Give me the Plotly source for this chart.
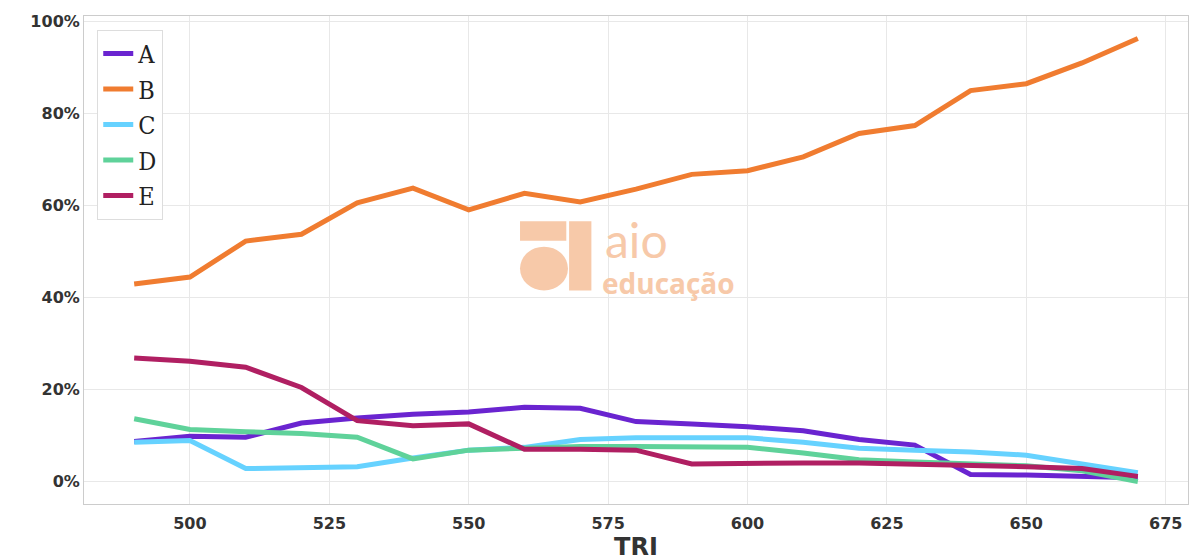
import plotly.graph_objects as go

x = list(range(490, 680, 10))
A = [8.7, 9.8, 9.6, 12.7, 13.8, 14.6, 15.1, 16.1, 15.9, 13.0, 12.5, 11.9, 11.0, 9.1, 7.9, 1.5, 1.4, 1.2, 0.8]
B = [42.9, 44.4, 52.2, 53.7, 60.5, 63.7, 59.0, 62.6, 60.7, 63.5, 66.7, 67.5, 70.5, 75.6, 77.3, 84.9, 86.4, 90.9, 96.2]
C = [8.5, 8.9, 2.8, 3.0, 3.2, 5.1, 6.8, 7.4, 9.1, 9.5, 9.5, 9.5, 8.5, 7.2, 6.8, 6.4, 5.7, 3.8, 1.9]
D = [13.6, 11.3, 10.8, 10.4, 9.6, 4.9, 6.8, 7.2, 7.6, 7.6, 7.6, 7.4, 6.2, 4.7, 4.2, 3.8, 3.4, 2.3, 0.0]
E = [26.8, 26.1, 24.8, 20.4, 13.2, 12.1, 12.5, 7.0, 7.0, 6.8, 3.8, 4.0, 4.0, 4.0, 3.8, 3.6, 3.2, 2.8, 1.1]
names = ["A", "B", "C", "D", "E"]
series = [A, B, C, D, E]
colors = ["#6a24d0", "#f07c30", "#66d2ff", "#5fd29a", "#b01f62"]

fig = go.Figure()
for n, s, c in zip(names, series, colors):
    fig.add_trace(go.Scatter(x=x, y=[v / 100 for v in s], mode="lines", name=n,
                             line=dict(color=c, width=5)))

wm = "#f7c9a9"
fig.add_annotation(x=574.0, y=0.525, text="aio", showarrow=False, xanchor="left", yanchor="middle",
                   font=dict(size=48, color=wm, family="Lato"))
fig.add_annotation(x=573.6, y=0.43, text="<b>educação</b>", showarrow=False, xanchor="left", yanchor="middle",
                   font=dict(size=28, color=wm, family="Open Sans"))
fig.add_shape(type="rect", x0=559.2, x1=567.5, y0=0.523, y1=0.565, fillcolor=wm, line_width=0)
fig.add_shape(type="circle", x0=559.2, x1=567.8, y0=0.415, y1=0.51, fillcolor=wm, line_width=0)
fig.add_shape(type="rect", x0=568.0, x1=572.0, y0=0.415, y1=0.565, fillcolor=wm, line_width=0)

fig.update_layout(
    width=1200, height=560, margin=dict(l=76, r=20, t=8, b=64, autoexpand=False),
    plot_bgcolor="white", paper_bgcolor="white",
    font=dict(family="DejaVu Sans", color="#333"),
    legend=dict(x=0.012, y=0.972, xanchor="left", yanchor="top",
                bordercolor="#ddd", borderwidth=1, bgcolor="white",
                font=dict(family="DejaVu Serif Condensed, DejaVu Serif", size=25, color="#222")),
    xaxis=dict(range=[481, 679], tickvals=[500, 525, 550, 575, 600, 625, 650, 675],
               showgrid=True, gridcolor="#e8e8e8", zeroline=False, automargin=False,
               showline=True, linecolor="#ccc", mirror=True, ticklen=5, ticks="outside", tickcolor="white",
               tickfont=dict(size=16, color="#333", family="DejaVu Sans", weight="bold"),
               title=dict(text="TRI", font=dict(size=24, color="#333", weight="bold"), standoff=1)),
    yaxis=dict(range=[-0.049, 1.011], tickvals=[0, 0.2, 0.4, 0.6, 0.8, 1.0], tickformat=".0%",
               showgrid=True, gridcolor="#e8e8e8", zeroline=False, automargin=False,
               showline=True, linecolor="#ccc", mirror=True,
               tickfont=dict(size=16, color="#333", family="DejaVu Sans", weight="bold")),
)
fig.write_html("out.html")
